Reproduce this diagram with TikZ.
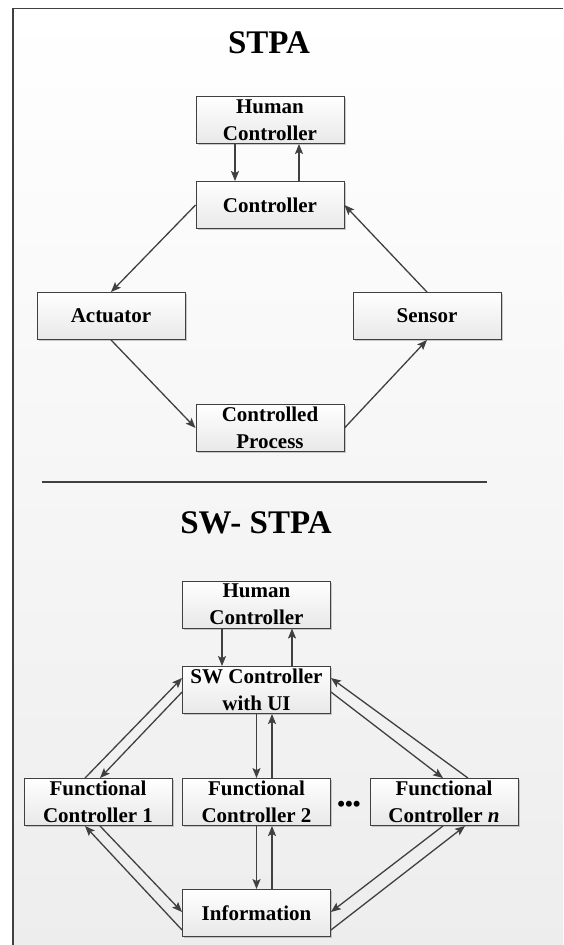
\documentclass[tikz,border=0pt]{standalone}
\usepackage{fontspec}
\setmainfont{Liberation Serif}
\usetikzlibrary{arrows.meta,shadows}
\definecolor{linegray}{HTML}{404040}

\begin{document}
\begin{tikzpicture}[
        x=1pt, y=-1pt,
        blk/.style={draw=linegray, line width=0.9pt,
          top color=white, bottom color=black!9,
          minimum width=148pt, minimum height=47pt, inner sep=0pt,
          align=center, font=\fontsize{21}{27}\selectfont\bfseries,
          drop shadow={shadow xshift=1.5pt, shadow yshift=-1.5pt,
            fill=black!40, opacity=0.5}},
        ttl/.style={font=\fontsize{33}{38}\selectfont\bfseries},
        arr/.style={draw=linegray, line width=1.3pt,
          -{Stealth[length=10pt,width=8pt,inset=2pt]}}
      ]
        % 画布与边框
        \useasboundingbox (0,0) rectangle (563,945);
        \shade[top color=white, bottom color=black!7] (13,8.5) rectangle (563,945);
        \draw[linegray, line width=1.5pt] (13,945) -- (13,8.5) -- (563,8.5);
        % 上半部分 STPA
        \node[ttl] (title1) at (269,43) {STPA};
        \node[blk] (hc1)  at (270,120) {Human\\Controller};
        \node[blk] (ctl1) at (270,205) {Controller};
        \node[blk] (act)  at (111,316) {Actuator};
        \node[blk] (sen)  at (427,316) {Sensor};
        \node[blk] (proc) at (270,428) {Controlled\\Process};
        % 上半部分连线
        \draw[arr] ([xshift=-35pt]hc1.south) -- ([xshift=-35pt]ctl1.north);
        \draw[arr] ([xshift=29pt]ctl1.north) -- ([xshift=29pt]hc1.south);
        \draw[arr] (ctl1.west) -- (act.north);
        \draw[arr] (act.south) -- (proc.west);
        \draw[arr] (proc.east) -- (sen.south);
        \draw[arr] (sen.north) -- (ctl1.east);
        % 分隔线
        \coordinate (sepl) at (42,482);
        \coordinate (sepr) at (487,482);
        \draw[linegray, line width=1.2pt] (sepl) -- (sepr);
        % 下半部分 SW-STPA
        \node[ttl] (title2) at (256,523) {SW- STPA};
        \node[blk] (hc2) at (256.5,604.5) {Human\\Controller};
        \node[blk] (swc) at (256.5,690) {SW Controller\\with UI};
        \node[blk] (fc1) at (98,802) {Functional\\Controller 1};
        \node[blk] (fc2) at (256.5,802) {Functional\\Controller 2};
        \node[blk] (fcn) at (444,802) {Functional\\Controller \textit{n}};
        \node[font=\fontsize{22}{26}\selectfont\bfseries] (dots) at (349,806) {•••};
        \node[blk] (inf) at (256.5,913) {Information};
        % 下半部分连线
        \draw[arr] ([xshift=-34.5pt]hc2.south) -- ([xshift=-34.5pt]swc.north);
        \draw[arr] ([xshift=35.5pt]swc.north) -- ([xshift=35.5pt]hc2.south);
        \draw[arr] (swc.south) -- (fc2.north);
        \draw[arr] ([xshift=15.5pt]fc2.north) -- ([xshift=15.5pt]swc.south);
        \draw[arr] (fc2.south) -- (inf.north);
        \draw[arr] ([xshift=15.5pt]inf.north) -- ([xshift=15.5pt]fc2.south);
        \draw[arr] ([xshift=-13pt]fc1.north) -- ([yshift=12pt]swc.west);
        \draw[arr] ([yshift=-2pt]swc.west) -- ([xshift=2pt]fc1.north);
        \draw[arr] ([xshift=24pt]fcn.north) -- ([yshift=12pt]swc.east);
        \draw[arr] ([yshift=-2pt]swc.east) -- ([xshift=-1pt]fcn.north);
        \draw[arr] ([xshift=2pt]fc1.south) -- ([yshift=1pt]inf.west);
        \draw[arr] ([yshift=-17pt]inf.west) -- ([xshift=-13pt]fc1.south);
        \draw[arr] ([xshift=-1pt]fcn.south) -- ([yshift=1pt]inf.east);
        \draw[arr] ([yshift=-17pt]inf.east) -- ([xshift=21pt]fcn.south);
      \end{tikzpicture}
\end{document}
